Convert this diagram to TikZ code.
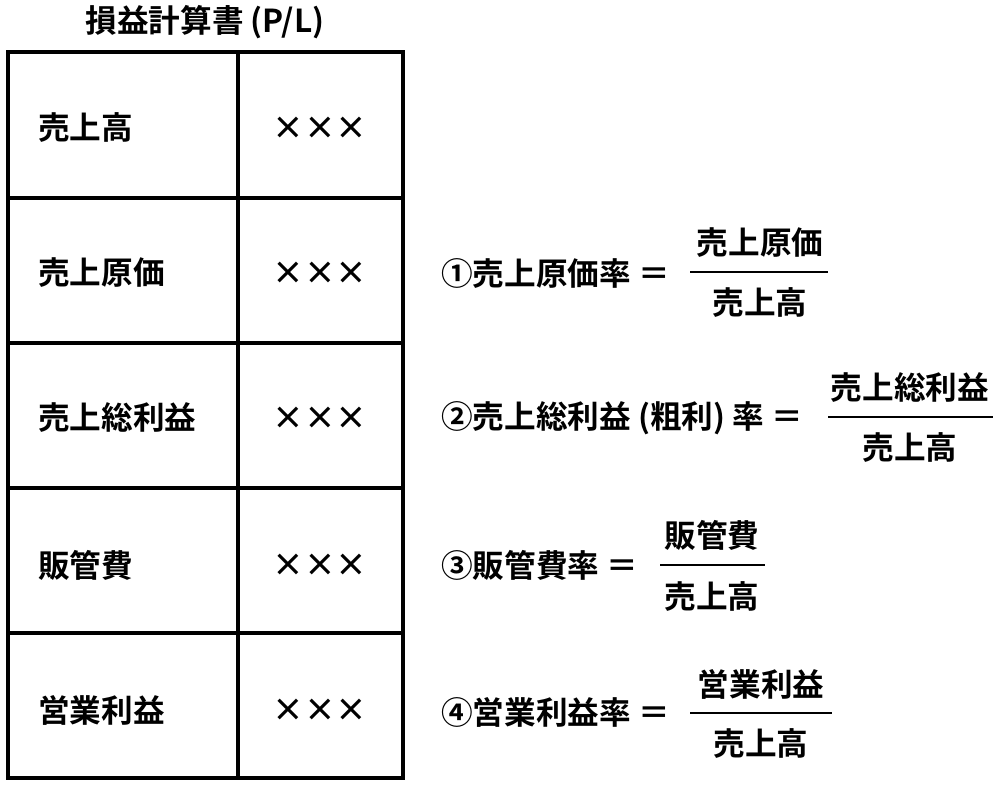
\documentclass[tikz,border=0pt]{standalone}
\usepackage{fontspec}
\setmainfont{Noto Sans CJK JP}[BoldFont={* Bold}]
\usetikzlibrary{positioning}
\begin{document}
\begin{tikzpicture}
[
x=0.02cm, y=-0.02cm,
frame-a/.style={line width=2.2pt, black},
text-a/.style={font=\fontsize{18}{21}\selectfont\bfseries, inner sep=0pt},
text-b/.style={text-a, anchor=west},
bar-a/.style={line width=1pt, black}
]
\useasboundingbox (0,0) rectangle (1000,784);
% table
\draw[frame-a] (8,52) rectangle (403,778);
\draw[frame-a] (238,52) -- (238,778);
\foreach \y in {198,343,488,633} \draw[frame-a] (8,\y) -- (403,\y);
\node (title) [text-a] at (205,22) {損益計算書 (P/L)};
\node (item-1) [text-b] at (38,128) {売上高};
\node (item-2) [text-b] at (38,273) {売上原価};
\node (item-3) [text-b] at (38,418) {売上総利益};
\node (item-4) [text-b] at (38,565) {販管費};
\node (item-5) [text-b] at (38,710) {営業利益};
\foreach \y/\n in {128/1,273/2,418/3,565/4,710/5}
  \node (val-\n) [text-a] at (320,\y) {×××};
% ratios
\node (rate-1) [text-b] at (441,273) {①売上原価率 ＝};
\node (num-1)  [text-a] at (760,243) {売上原価};
\node (den-1)  [text-a] at (760,303) {売上高};
\coordinate (bar-1a) at (690,272); \coordinate (bar-1b) at (828,272);
\draw[bar-a] (bar-1a) -- (bar-1b);
\node (rate-2) [text-b] at (441,418) {②売上総利益 (粗利) 率 ＝};
\node (num-2)  [text-a] at (910,388) {売上総利益};
\node (den-2)  [text-a] at (910,448) {売上高};
\coordinate (bar-2a) at (828,417); \coordinate (bar-2b) at (993,417);
\draw[bar-a] (bar-2a) -- (bar-2b);
\node (rate-3) [text-b] at (441,565) {③販管費率 ＝};
\node (num-3)  [text-a] at (712,535) {販管費};
\node (den-3)  [text-a] at (712,597) {売上高};
\coordinate (bar-3a) at (660,565); \coordinate (bar-3b) at (765,565);
\draw[bar-a] (bar-3a) -- (bar-3b);
\node (rate-4) [text-b] at (441,712) {④営業利益率 ＝};
\node (num-4)  [text-a] at (761,684) {営業利益};
\node (den-4)  [text-a] at (761,744) {売上高};
\coordinate (bar-4a) at (690,713); \coordinate (bar-4b) at (832,713);
\draw[bar-a] (bar-4a) -- (bar-4b);
\end{tikzpicture}
\end{document}
